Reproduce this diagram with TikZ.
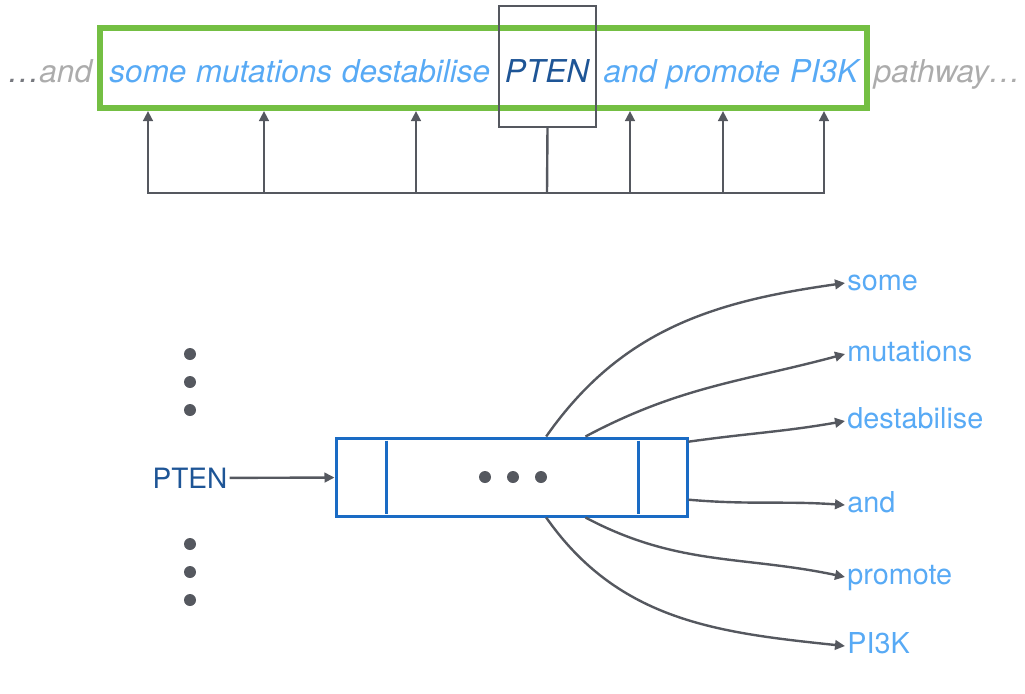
\documentclass[tikz,border=0pt]{standalone}
\usepackage{fontspec}
\setmainfont{TeX Gyre Heros}
\usetikzlibrary{arrows.meta,calc}
\definecolor{wordblue}{RGB}{88,170,245}
\definecolor{ptenblue}{RGB}{30,85,150}
\definecolor{fadegray}{RGB}{172,172,172}
\definecolor{linegray}{RGB}{85,88,95}
\definecolor{framegreen}{RGB}{116,191,67}
\definecolor{cellblue}{RGB}{26,107,196}

\begin{document}
\begin{tikzpicture}[x=0.5pt,y=-0.5pt,
  conn/.style={draw=linegray, line width=1.2pt, -{Triangle[length=5pt,width=4.8pt]}},
  topword/.style={font=\fontsize{15.75}{19}\selectfont\itshape, text=wordblue, inner sep=1pt, anchor=base},
  lbl/.style={font=\fontsize{14.4}{17}\selectfont, text=wordblue, inner sep=1pt, anchor=west, text height=1.5ex, text depth=0pt}]
\useasboundingbox (0,0) rectangle (1025,693);

% sentence with the context window
\node[draw=framegreen, line width=3pt, minimum width=383.5pt, minimum height=40pt] (frame) at (483.5,68) {};
\node[draw=linegray, line width=1.1pt, minimum width=48.5pt, minimum height=60.5pt] (ptenbox) at (547.5,66.5) {};

\node[topword, text=fadegray] (prev) at (50,82) {\textcolor{linegray!80}{…}and};
\node[topword] (tsome) at (148,82) {some};
\node[topword] (tmut) at (264,82) {mutations};
\node[topword] (tdest) at (416,82) {destabilise};
\node[topword, text=ptenblue] (tpten) at (547,82) {PTEN};
\node[topword] (tand) at (630,82) {and};
\node[topword] (tprom) at (723,82) {promote};
\node[topword] (tpik) at (824,82) {PI3K};
\node[topword, text=fadegray] (next) at (947,82) {pathway…};

% context arrows
\coordinate (bus) at (547,193);
\draw[linegray, line width=1.2pt] (ptenbox.south) -- (bus);
\foreach \w in {tsome,tmut,tdest,tand,tprom,tpik}
  \draw[conn] (bus) -| (\w.south |- frame.south);

% skip-gram model
\node[draw=cellblue, line width=1.5pt, minimum width=175.5pt, minimum height=39pt] (cell) at (511.5,477) {};
\draw[cellblue, line width=1.3pt] ($(cell.north west)+(52,4)$) -- ($(cell.south west)+(52,-4)$);
\draw[cellblue, line width=1.3pt] ($(cell.north east)+(-50,4)$) -- ($(cell.south east)+(-50,-4)$);
\foreach \x in {485,513,541}
  \fill[linegray] (\x,477) circle[radius=3pt];

\node[font=\fontsize{14}{17}\selectfont, text=ptenblue, inner sep=1pt] (pten) at (190,478) {PTEN};
\draw[conn] (pten) -- (cell);

% vertical dots
\foreach \y in {354,382,410,544,572,600}
  \fill[linegray] (190,\y) circle[radius=3pt];

% output words
\node[lbl] (some) at (845,283) {some};
\node[lbl] (mutations) at (845,354) {mutations};
\node[lbl] (destabilise) at (845,421) {destabilise};
\node[lbl] (and) at (845,505) {and};
\node[lbl] (promote) at (845,577) {promote};
\node[lbl] (pik) at (845,646) {PI3K};

\draw[conn] ($(cell.north west)!0.598!(cell.north east)$) to[out=55,in=188] (some.west);
\draw[conn] ($(cell.north west)!0.709!(cell.north east)$) to[out=28,in=195] (mutations.west);
\draw[conn] ($(cell.north east)!0.064!(cell.south east)$) to[out=8,in=190] (destabilise.west);
\draw[conn] ($(cell.north east)!0.78!(cell.south east)$) to[out=-5,in=176] (and.west);
\draw[conn] ($(cell.south west)!0.709!(cell.south east)$) to[out=-28,in=168] (promote.west);
\draw[conn] ($(cell.south west)!0.598!(cell.south east)$) to[out=-55,in=174] (pik.west);

\end{tikzpicture}
\end{document}
